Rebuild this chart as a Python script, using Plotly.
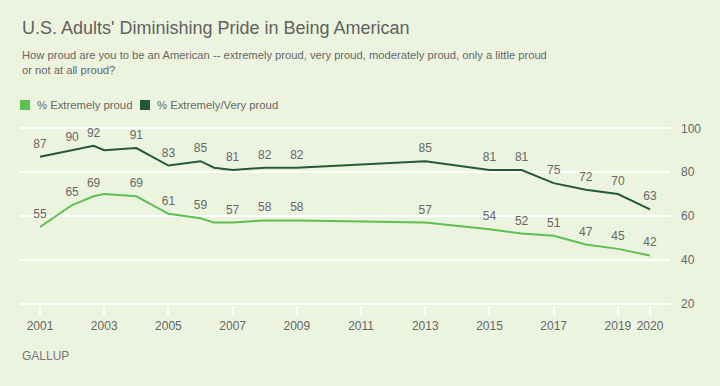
import plotly.graph_objects as go

# ---- data ----
years = [2001, 2002, 2002.67, 2003, 2004, 2005, 2006, 2006.42, 2007, 2008, 2009,
         2013, 2015, 2016, 2017, 2018, 2019, 2020]
extremely_proud = [55, 65, 69, 70, 69, 61, 59, 57, 57, 58, 58, 57, 54, 52, 51, 47, 45, 42]
extremely_very_proud = [87, 90, 92, 90, 91, 83, 85, 82, 81, 82, 82, 85, 81, 81, 75, 72, 70, 63]
labeled = [True, True, True, False, True, True, True, False, True, True, True,
           True, True, True, True, True, True, True]
x_ticks = [2001, 2003, 2005, 2007, 2009, 2011, 2013, 2015, 2017, 2019, 2020]
y_ticks = [20, 40, 60, 80, 100]
series_names = ["% Extremely proud", "% Extremely/Very proud"]

title = "U.S. Adults' Diminishing Pride in Being American"
subtitle = ("How proud are you to be an American -- extremely proud, very proud, "
            "moderately proud, only a little proud<br>or not at all proud?")
source = "GALLUP"

# ---- style ----
BG = "#ECF4DF"
LIGHT = "#5DC051"
DARK = "#245935"
TXT = "#666666"
FONT = "Liberation Sans, Arial, sans-serif"

W, H = 720, 386
ML, MR, MT, MB = 20, 50, 127, 81
PW, PH = W - ML - MR, H - MT - MB


def px(x):
    return (x - ML) / PW


def py(y):
    return (H - MB - y) / PH


fig = go.Figure()

for vals, color, name in [(extremely_proud, LIGHT, series_names[0]),
                          (extremely_very_proud, DARK, series_names[1])]:
    fig.add_trace(go.Scatter(
        x=years, y=vals, name=name, showlegend=False,
        mode="lines+markers+text",
        line=dict(color=color, width=2),
        marker=dict(size=8, color="rgba(0,0,0,0)"),
        text=[str(v) if lab else "" for v, lab in zip(vals, labeled)],
        textposition="top center",
        textfont=dict(family=FONT, size=12, color=TXT),
        hoverinfo="skip",
    ))

fig.update_layout(
    width=W, height=H,
    margin=dict(l=ML, r=MR, t=MT, b=MB),
    paper_bgcolor=BG, plot_bgcolor=BG,
    font=dict(family=FONT, color=TXT),
    showlegend=False,
    xaxis=dict(
        range=[2000.377, 2020.623],
        tickvals=x_ticks, ticktext=[str(t) for t in x_ticks],
        showgrid=False, zeroline=False, showline=False,
        ticks="outside", ticklen=9, tickwidth=2, tickcolor="white",
        tickfont=dict(family=FONT, size=12, color=TXT),
        ticklabelstandoff=1,
        fixedrange=True,
    ),
    yaxis=dict(
        range=[19.4, 100.6], side="right",
        tickvals=y_ticks, ticktext=[str(t) for t in y_ticks],
        showgrid=True, gridcolor="white", gridwidth=2,
        zeroline=False, showline=False, ticks="",
        ticklabelstandoff=10,
        tickfont=dict(family=FONT, size=12, color=TXT),
        fixedrange=True,
    ),
)

annotations = [
    dict(text=title, x=px(20), y=py(27.5), xanchor="left", yanchor="middle",
         font=dict(family=FONT, size=18, color="#606060")),
    dict(text=subtitle, x=px(20), y=py(62.5), xanchor="left", yanchor="middle",
         align="left", font=dict(family=FONT, size=11.2, color=TXT)),
    dict(text=series_names[0], x=px(35), y=py(105), xanchor="left", yanchor="middle",
         font=dict(family=FONT, size=11.3, color=TXT)),
    dict(text=series_names[1], x=px(155), y=py(105), xanchor="left", yanchor="middle",
         font=dict(family=FONT, size=11.3, color=TXT)),
    dict(text=source, x=px(20), y=py(355.5), xanchor="left", yanchor="middle",
         font=dict(family=FONT, size=12, color="#777777")),
]
for a in annotations:
    a.update(xref="paper", yref="paper", showarrow=False)
fig.update_layout(annotations=annotations)

fig.update_layout(shapes=[
    dict(type="rect", xref="paper", yref="paper",
         x0=px(20), x1=px(30), y0=py(100), y1=py(110),
         fillcolor=LIGHT, line=dict(width=0)),
    dict(type="rect", xref="paper", yref="paper",
         x0=px(140), x1=px(150), y0=py(100), y1=py(110),
         fillcolor=DARK, line=dict(width=0)),
])

fig.write_html(
    "out.html",
    config={"displayModeBar": False, "staticPlot": True},
    post_script="document.body.style.margin='0';document.body.style.background='%s';" % BG,
)
